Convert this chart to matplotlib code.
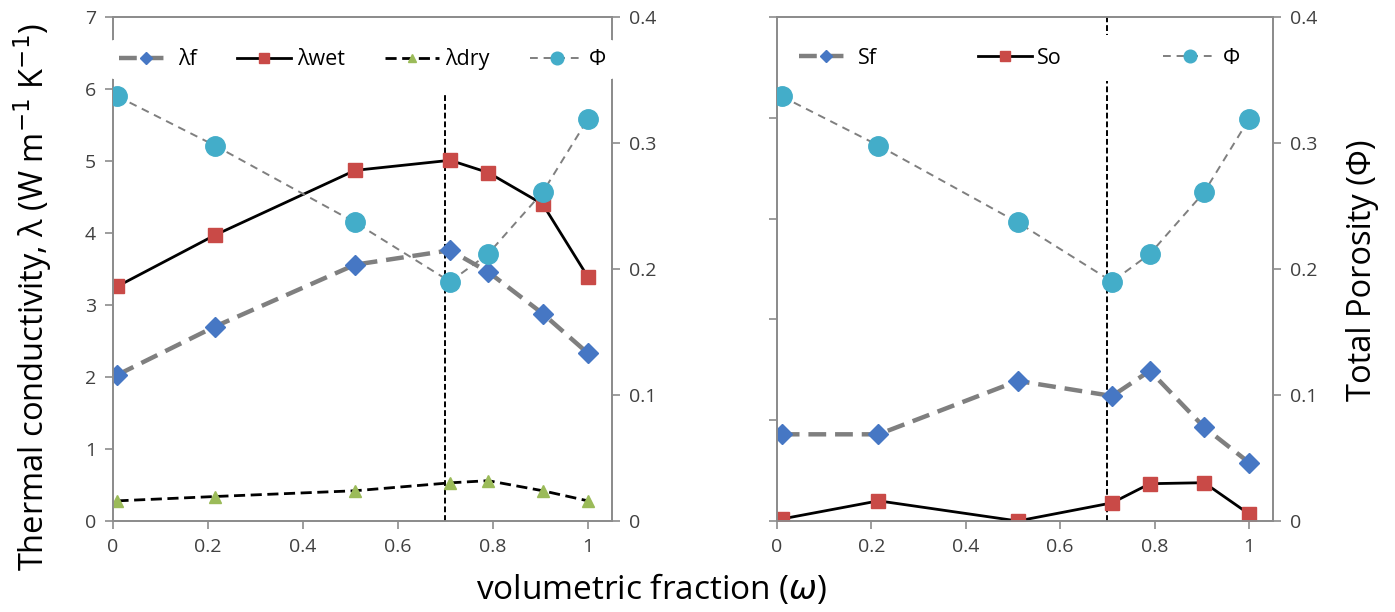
import matplotlib
matplotlib.use("Agg")
import matplotlib.pyplot as plt

plt.rcParams['font.family'] = ['Open Sans', 'DejaVu Sans']
plt.rcParams['mathtext.fontset'] = 'dejavusans'

# data
omega = [0.01, 0.215, 0.51, 0.71, 0.79, 0.905, 1.0]
lam_f = [2.03, 2.70, 3.56, 3.76, 3.46, 2.88, 2.33]
lam_wet = [3.26, 3.97, 4.87, 5.01, 4.84, 4.40, 3.39]
lam_dry = [0.28, 0.34, 0.42, 0.53, 0.56, 0.42, 0.28]
phi = [0.337, 0.298, 0.237, 0.190, 0.212, 0.261, 0.319]
s_f = [0.86, 0.86, 1.39, 1.24, 1.49, 0.93, 0.58]
s_o = [0.02, 0.20, 0.00, 0.18, 0.37, 0.38, 0.07]
omega_opt = 0.70

x_ticks = [0, 0.2, 0.4, 0.6, 0.8, 1]
x_labels = ['0', '0.2', '0.4', '0.6', '0.8', '1']
phi_ticks = [0, 0.1, 0.2, 0.3, 0.4]
phi_labels = ['0', '0.1', '0.2', '0.3', '0.4']

c_blue = '#4677C4'
c_red = '#C94A47'
c_green = '#9BBB59'
c_cyan = '#43ADC9'
c_grey = '#7F7F7F'
c_spine = '#8C8C8C'
c_tick = '#404040'

fig = plt.figure(figsize=(13.95, 6.12), dpi=100)
ax1 = fig.add_axes([0.0808, 0.1487, 0.358, 0.8235])
ax3 = fig.add_axes([0.557, 0.1487, 0.3556, 0.8235])


def style(ax):
    for s in ax.spines.values():
        s.set_color(c_spine)
        s.set_linewidth(1.3)
    ax.tick_params(direction='out', length=6, width=1.2, color=c_spine,
                   labelsize=14, labelcolor=c_tick, pad=6)


# ---- left panel ----
l1, = ax1.plot(omega, lam_f, ls=(0, (4, 2)), color=c_grey, lw=3.2, marker='D',
               ms=10, mfc=c_blue, mec=c_blue, label='λf', zorder=4)
l2, = ax1.plot(omega, lam_wet, ls='-', color='black', lw=2, marker='s',
               ms=10, mfc=c_red, mec=c_red, label='λwet', zorder=4)
l3, = ax1.plot(omega, lam_dry, ls=(0, (4, 2)), color='black', lw=2, marker='^',
               ms=9, mfc=c_green, mec=c_green, label='λdry', zorder=4)
ax1.axvline(omega_opt, ymin=0, ymax=0.85, color='black', lw=1.4, ls=(0, (3, 1.5)), zorder=3)
ax1.set_xlim(0, 1.051)
ax1.set_ylim(0, 7)
ax1.set_xticks(x_ticks)
ax1.set_xticklabels(x_labels)
ax1.set_yticks(range(8))
style(ax1)

ax2 = ax1.twinx()
l4, = ax2.plot(omega, phi, ls=(0, (4, 3)), color=c_grey, lw=1.4, marker='o',
               ms=14, mfc=c_cyan, mec=c_cyan, label='Φ', zorder=4)
ax2.set_ylim(0, 0.4)
ax2.set_yticks(phi_ticks)
ax2.set_yticklabels(phi_labels)
style(ax2)

leg = ax2.legend([l1, l2, l3, l4], ['λf', 'λwet', 'λdry', 'Φ'], ncol=4,
                 loc='upper center', bbox_to_anchor=(0.5, 0.955), frameon=True,
                 framealpha=1, edgecolor='none', fontsize=15.5, handlelength=2.5,
                 columnspacing=1.9, handletextpad=0.25, borderaxespad=0,
                 markerscale=0.65)
leg.get_frame().set_linewidth(0)

# ---- right panel ----
m1, = ax3.plot(omega, s_f, ls=(0, (4, 2)), color=c_grey, lw=3.2, marker='D',
               ms=10, mfc=c_blue, mec=c_blue, label='Sf', zorder=4)
m2, = ax3.plot(omega, s_o, ls='-', color='black', lw=2, marker='s',
               ms=10, mfc=c_red, mec=c_red, label='So', zorder=4)
ax3.axvline(omega_opt, color='black', lw=1.4, ls=(0, (3, 1.5)), zorder=3)
ax3.set_xlim(0, 1.051)
ax3.set_ylim(0, 5)
ax3.set_xticks(x_ticks)
ax3.set_xticklabels(x_labels)
ax3.set_yticks(range(6))
ax3.set_yticklabels([])
style(ax3)

ax4 = ax3.twinx()
m3, = ax4.plot(omega, phi, ls=(0, (4, 3)), color=c_grey, lw=1.4, marker='o',
               ms=14, mfc=c_cyan, mec=c_cyan, label='Φ', zorder=4)
ax4.set_ylim(0, 0.4)
ax4.set_yticks(phi_ticks)
ax4.set_yticklabels(phi_labels)
style(ax4)

leg2 = ax4.legend([m1, m2, m3], ['Sf', 'So', 'Φ'], ncol=3,
                  loc='upper center', bbox_to_anchor=(0.488, 0.965), frameon=True,
                  framealpha=1, edgecolor='none', fontsize=15.5, handlelength=2.5,
                  columnspacing=4.7, handletextpad=0.25, borderaxespad=0,
                  borderpad=0.6, markerscale=0.65)
leg2.get_frame().set_linewidth(0)

# axis titles
fig.text(0.0237, 0.515, 'Thermal conductivity, λ (W m$^{-1}$ K$^{-1}$)', rotation=90,
         ha='center', va='center', fontsize=23.5)
fig.text(0.977, 0.559, 'Total Porosity (Φ)', rotation=90,
         ha='center', va='center', fontsize=23.5)
fig.text(0.467, 0.036, 'volumetric fraction ($\\omega$)', ha='center', va='center',
         fontsize=24)

fig.savefig('out.png', dpi=100)
